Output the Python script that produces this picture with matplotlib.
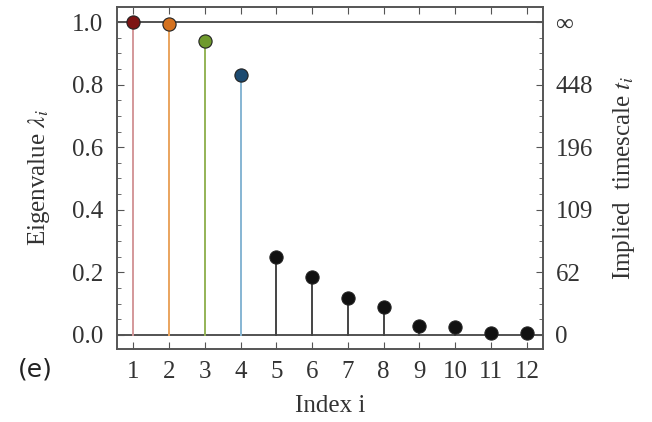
import numpy as np
import matplotlib
matplotlib.use("Agg")
import matplotlib.pyplot as plt
from matplotlib.ticker import MultipleLocator

# eigenvalues
index = [1, 2, 3, 4, 5, 6, 7, 8, 9, 10, 11, 12]
eigenvalues = [1.0, 0.995, 0.938, 0.830, 0.249, 0.186, 0.118, 0.089,
               0.029, 0.026, 0.007, 0.006]
marker_colors = ["#7d1414", "#d4711f", "#6f9a2c", "#1c4a70"] + ["#111111"] * 8
stem_colors = ["#d4989a", "#eaa45e", "#94b356", "#86b6d3"] + ["#444444"] * 8

left_ticks = [0.0, 0.2, 0.4, 0.6, 0.8, 1.0]
right_labels = ["0", "62", "109", "196", "448", "\u221e"]

plt.rcParams["font.family"] = ["Liberation Serif", "DejaVu Serif"]
plt.rcParams["mathtext.fontset"] = "stix"
FS = 18
TXT = "#333333"

fig = plt.figure(figsize=(6.52, 4.22), dpi=100)
ax = fig.add_axes([117 / 652, 1 - 349 / 422, 426 / 652, 342 / 422])

ax.axhline(1.0, color="#444444", lw=1.3, zorder=1)
ax.axhline(0.0, color="#444444", lw=1.3, zorder=1)

for x, y, mc, sc in zip(index, eigenvalues, marker_colors, stem_colors):
    ax.plot([x, x], [0, y], color=sc, lw=1.4, zorder=2)
    ax.plot([x], [y], "o", ms=9.5, color=mc, mec="#222222", mew=0.8, zorder=3)

ax.set_xlim(0.55, 12.45)
ax.set_ylim(-0.045, 1.048)
ax.set_xticks(index)
ax.set_yticks(left_ticks)
ax.set_yticklabels([f"{t:.1f}" for t in left_ticks])
ax.yaxis.set_minor_locator(MultipleLocator(0.05))
ax.tick_params(axis="both", which="both", direction="in", top=True,
               labelsize=FS, color="#555555", labelcolor=TXT)
ax.tick_params(axis="x", which="major", length=5, pad=9)
ax.tick_params(axis="y", which="major", length=5, pad=10)
ax.tick_params(axis="y", which="minor", length=3)
for s in ax.spines.values():
    s.set_color("#555555")
    s.set_linewidth(1.2)

ax.set_xlabel("Index i", fontsize=FS, labelpad=8, color=TXT)
ax.set_ylabel(r"Eigenvalue $\lambda_i$", fontsize=FS, labelpad=14, color=TXT)

ax2 = ax.twinx()
ax2.set_ylim(ax.get_ylim())
ax2.set_yticks(left_ticks)
ax2.set_yticklabels(right_labels)
ax2.yaxis.set_minor_locator(MultipleLocator(0.05))
ax2.tick_params(axis="y", which="both", direction="in", labelsize=FS,
                color="#555555", labelcolor=TXT, pad=9)
ax2.tick_params(axis="y", which="major", length=5)
ax2.tick_params(axis="y", which="minor", length=3)
for s in ax2.spines.values():
    s.set_color("#555555")
    s.set_linewidth(1.2)
ax2.set_ylabel(r"Implied  timescale $t_i$", fontsize=FS, labelpad=13, color=TXT)

fig.text(18 / 652, 1 - 370 / 422, "(e)", fontsize=18, family="DejaVu Sans",
         va="center", ha="left", color="#222222")

fig.savefig("out.png", dpi=100)
